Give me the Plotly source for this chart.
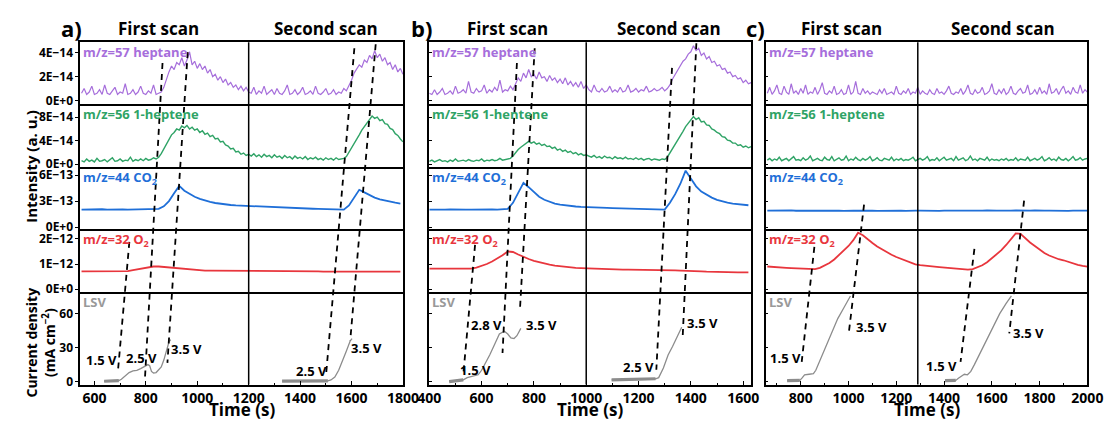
import numpy as np
import plotly.graph_objects as go

W, H = 1118, 423

# ======================= DATA =======================
# ---- panel a ----
a_fast_t = list(range(550, 1801, 10))
a_heptane = [  # x1e-14
    0.6, 1.0, 0.5, 0.7, 1.2, 0.5, 0.6, 0.9, 0.5, 1.3, 0.6, 0.5, 0.8, 1.1, 0.5, 0.7,
    0.6, 1.4, 0.5, 0.6, 0.9, 0.5, 0.7, 1.2, 0.6, 0.5, 0.8, 0.6, 1.3, 0.5, 0.6, 0.7,
    1.1, 1.8, 2.4, 2.9, 2.6, 3.2, 3.0, 3.6, 2.9, 3.4, 4.1, 3.0, 3.3, 2.7,
    3.1, 2.6, 2.9, 2.3, 2.6, 2.0, 2.2, 1.7, 2.0, 1.5, 1.8, 1.3, 1.5, 1.1, 1.3, 0.9,
    1.2, 0.8, 1.1, 0.7,
    0.6, 1.1, 0.5, 0.8, 0.6, 1.2, 0.5, 0.7, 0.9, 0.5, 1.0, 0.6, 0.5, 0.8, 1.3, 0.5,
    0.6, 0.9, 0.5, 0.7, 1.1, 0.5, 0.6, 0.8, 0.5, 1.2, 0.6, 0.5, 0.7, 1.0, 0.5, 0.6,
    0.9, 0.5, 0.7, 0.6, 1.0, 0.8,
    1.2, 1.7, 2.3, 2.6, 3.0, 2.8, 3.4, 3.2, 3.8, 3.5, 4.2, 3.6,
    3.9, 3.3, 3.6, 3.0, 3.2, 2.6, 3.0, 2.4, 2.7, 2.2]
a_heptene = [  # x1e-14
    0.6, 0.4, 0.9, 0.5, 0.7, 0.4, 1.0, 0.5, 0.6, 0.8, 0.4, 0.7, 1.1, 0.5, 0.6, 0.9,
    0.5, 0.7, 0.6, 1.2, 0.5, 0.8, 0.6, 0.9, 0.6, 1.0, 0.7, 0.8, 1.1, 0.9,
    1.2, 1.8, 2.6, 3.4, 4.2, 5.0, 5.4, 6.0, 5.8, 6.5, 6.2,
    6.6, 6.0, 6.3, 5.8, 6.0, 5.4, 5.7, 5.1, 5.3, 4.7, 4.9, 4.3, 4.4, 3.8, 3.9, 3.3,
    3.1, 2.6, 2.7, 2.1, 2.2, 1.7, 1.9, 1.5, 1.7,
    1.4, 1.8, 1.3, 1.6, 1.2, 1.7, 1.3, 1.5, 1.1, 1.6, 1.2, 1.4, 1.0, 1.5, 1.1, 1.3,
    0.9, 1.4, 1.0, 1.2, 0.9, 1.3, 0.8, 1.1, 0.9, 1.2, 0.8, 1.0, 0.7, 1.1, 0.8, 1.0,
    0.7, 1.1, 0.8, 0.9, 1.0,
    1.3, 2.0, 2.8, 3.5, 4.3, 5.0, 5.8, 6.4, 7.0, 7.5, 8.2, 7.8,
    8.0, 7.4, 7.6, 6.9, 6.8, 6.1, 5.9, 5.2, 4.9, 4.3, 3.8]
a_slow_t = list(range(550, 1791, 20))
a_co2 = [  # x1e-13
    2.02, 2.05, 2.0, 2.03, 2.06, 2.01, 2.04, 2.0, 2.05, 2.02, 2.03, 2.06, 2.01, 2.04, 2.05, 2.1,
    2.4, 3.0, 3.9, 4.75, 4.2, 3.8, 3.5, 3.25, 3.05, 2.9, 2.78, 2.68, 2.6, 2.55, 2.5, 2.47, 2.45,
    2.43, 2.4, 2.38, 2.36, 2.33, 2.3, 2.28, 2.25, 2.22, 2.2, 2.17, 2.15, 2.12, 2.1, 2.08,
    2.06, 2.05, 2.03, 2.02,
    2.5, 3.4, 4.3, 4.0, 3.65, 3.4, 3.2, 3.05, 2.92, 2.82, 2.72]
a_o2 = [  # x1e-12
    0.71, 0.71, 0.72, 0.71, 0.71, 0.72, 0.71, 0.71, 0.72, 0.72,
    0.76, 0.8, 0.85, 0.88, 0.9, 0.9, 0.88, 0.86, 0.84, 0.82, 0.8, 0.78, 0.76, 0.75, 0.74,
    0.74, 0.74, 0.73, 0.73, 0.73, 0.73, 0.72, 0.72, 0.72, 0.72, 0.72, 0.72, 0.71, 0.71,
    0.71, 0.71, 0.71, 0.71, 0.71, 0.71, 0.71, 0.71, 0.70, 0.70, 0.70, 0.70, 0.70, 0.70,
    0.71, 0.71, 0.70, 0.70, 0.70, 0.70, 0.70, 0.70, 0.70, 0.70]
a_lsv_t = [638, 660, 680, 695, 705, 720, 735, 750, 765, 780, 795, 808, 815, 822, 830, 840,
           850, 860, 870, 880, 890, 897, None,
           1330, 1400, 1460, 1508, 1520, 1535, 1550, 1565, 1580, 1595, 1602]
a_lsv_j = [0.3, 0.4, 0.5, 0.8, 2, 5, 8, 9.5, 10, 11.5, 13.5, 15, 14, 9, 7.5, 8,
           10.5, 13, 19, 27, 35, 37, None,
           0.5, 0.5, 0.5, 0.6, 1.5, 4, 10, 18, 27, 36, 38]
a_hold_t = [638, 695, None, 1330, 1508]
a_hold_j = [0.3, 0.8, None, 0.5, 0.6]

# ---- panel b ----
b_fast_t = list(range(400, 1631, 10))
b_heptane = [  # x1e-14
    0.6, 0.5, 0.9, 0.5, 0.7, 1.0, 0.5, 0.6, 0.8, 0.5, 1.2, 0.6, 0.7, 0.9, 0.6, 1.6,
    0.7, 0.6, 1.0, 0.7, 0.8, 1.3, 0.6, 0.9, 0.7, 1.1, 0.8, 1.7, 0.7, 0.9, 0.8, 1.2, 0.9,
    1.4, 1.9, 1.6, 2.3, 1.9, 2.6,
    2.0, 2.2, 1.8, 2.4, 1.9, 2.0, 1.6, 2.1, 1.7, 1.9, 1.5, 1.8, 1.4, 1.9, 1.3, 1.6,
    1.2, 1.5, 1.1, 1.6, 1.0, 1.3,
    0.9, 0.7, 1.3, 0.8, 0.7, 1.0, 0.7, 0.8, 1.2, 0.7, 0.9, 0.7, 1.1, 0.7, 0.8, 1.3,
    0.7, 0.8, 1.0, 0.7, 0.9, 0.8, 1.2, 0.7, 0.8, 1.0, 0.8, 0.9, 1.1, 0.8, 1.0,
    1.3, 1.8, 2.2, 2.6, 2.9, 3.3, 3.5, 3.9, 4.1, 4.6, 4.2,
    4.4, 3.8, 4.0, 3.5, 3.7, 3.2, 3.3, 2.9, 3.0, 2.6, 2.7, 2.3, 2.4, 2.0, 2.1, 1.8,
    1.9, 1.5, 1.7, 1.4, 1.5]
b_heptene = [  # x1e-14
    0.5, 0.7, 0.4, 0.6, 0.8, 0.5, 0.6, 0.4, 0.7, 0.5, 0.9, 0.5, 0.6, 0.7, 0.5, 0.8,
    0.6, 0.5, 0.7, 0.6, 0.9, 0.5, 0.7, 0.6, 0.8, 0.6, 0.7, 1.0, 0.7, 0.8, 0.9, 1.0,
    1.4, 2.0, 2.5, 2.9, 3.2, 3.6, 3.9,
    3.6, 3.8, 3.4, 3.6, 3.2, 3.4, 3.0, 3.1, 2.7, 2.9, 2.4, 2.6, 2.2, 2.4, 2.0, 2.2,
    1.8, 2.0, 1.6, 1.8, 1.5, 1.6,
    1.4, 1.2, 1.5, 1.1, 1.3, 1.0, 1.4, 1.1, 1.2, 0.9, 1.3, 1.0, 1.1, 0.9, 1.2, 0.9,
    1.0, 0.8, 1.1, 0.8, 1.0, 0.7, 0.9, 1.0, 0.7, 0.9, 0.8, 0.7, 0.9, 0.8,
    1.2, 1.9, 2.7, 3.4, 4.2, 4.9, 5.6, 6.4, 7.0, 7.6, 8.1,
    7.6, 7.9, 7.2, 7.3, 6.7, 6.6, 6.0, 5.8, 5.4, 5.2, 4.7, 4.6, 4.1, 4.0, 3.6, 3.6,
    3.2, 3.3, 2.9, 3.1, 2.8, 3.0]
b_slow_t = list(range(400, 1621, 20))
b_co2 = [  # x1e-13
    2.02, 2.0, 2.04, 2.01, 2.03, 2.0, 2.05, 2.02, 2.01, 2.04, 2.0, 2.03, 2.05, 2.02, 2.04, 2.1,
    2.8, 3.9, 5.1, 4.6, 4.0, 3.5, 3.15, 2.9, 2.72, 2.6, 2.5, 2.43, 2.38, 2.34, 2.3,
    2.28, 2.26, 2.24, 2.22, 2.2, 2.18, 2.16, 2.14, 2.12, 2.1, 2.08, 2.06, 2.04, 2.03, 2.02,
    2.8, 3.8, 5.0, 6.5, 5.6, 4.7, 4.1, 3.7, 3.4, 3.15, 2.95, 2.82, 2.72, 2.64, 2.57, 2.52]
b_o2 = [  # x1e-12
    0.82, 0.82, 0.81, 0.82, 0.82, 0.81, 0.81, 0.82, 0.82,
    0.86, 0.92, 1.0, 1.1, 1.22, 1.35, 1.5, 1.48, 1.38, 1.28, 1.2, 1.13, 1.07, 1.02, 0.98,
    0.94, 0.91, 0.89, 0.87, 0.85, 0.84, 0.83,
    0.82, 0.81, 0.8, 0.8, 0.79, 0.79, 0.78, 0.78, 0.78, 0.77, 0.77, 0.77, 0.76, 0.76,
    0.76, 0.75, 0.75, 0.74, 0.74, 0.73, 0.72, 0.71, 0.7, 0.69, 0.68, 0.68, 0.67, 0.67,
    0.67, 0.67, 0.67]
b_lsv_t = [476, 500, 530, 545, 564, 587, 600, 615, 631, 650, 668, 687, 700, 712, 724, 735,
           745, 750, None,
           1097, 1150, 1200, 1240, 1265, 1277, 1295, 1313, 1330, 1350, 1365]
b_lsv_j = [0, 0.5, 1.5, 3.5, 4.5, 6, 10, 16, 23.5, 33, 42, 44.5, 42, 38.5, 38, 40.5,
           45, 47, None,
           1.5, 1.5, 1.8, 2, 2.5, 3.5, 12, 23.5, 31, 40, 48]
b_hold_t = [476, 530, None, 1097, 1265]
b_hold_j = [0, 1.5, None, 1.5, 2.5]

# ---- panel c ----
c_fast_t = list(range(660, 2001, 10))
c_heptane = [  # x1e-14
    0.6, 1.1, 0.5, 0.8, 1.3, 0.6, 0.5, 1.2, 0.7, 0.5, 1.4, 0.6, 0.8, 0.5, 1.0, 0.6, 1.3, 0.5, 0.7, 0.6,
    1.1, 0.5, 0.9, 1.5, 0.6, 0.5, 0.8, 0.6, 1.2, 0.5, 0.6, 0.9, 0.5, 0.6, 1.3, 0.5, 0.7, 1.6, 0.6, 0.5,
    1.0, 0.6, 0.8, 0.5, 0.7, 0.6, 0.5, 0.9, 0.6, 1.0, 0.5, 0.6, 0.7, 0.5, 1.2, 0.6, 0.5, 0.8, 0.6, 1.0,
    0.5, 0.7, 0.6, 1.1, 0.5, 0.8, 0.6, 0.5, 0.9, 0.6, 0.5, 1.0, 0.6, 0.7, 0.5, 0.8, 1.2, 0.6, 0.5, 0.7,
    0.6, 1.0, 0.5, 0.8, 1.3, 0.6, 0.5, 0.9, 0.6, 0.7, 1.1, 0.5, 0.6, 0.8, 1.4, 0.6, 0.5, 0.9, 0.6, 1.0,
    0.5, 0.7, 1.2, 0.6, 0.5, 0.8, 1.0, 0.6, 0.7, 1.3, 0.5, 0.6, 0.9, 0.5, 1.1, 0.6, 0.8, 0.5, 1.4, 0.6,
    0.7, 1.0, 0.5, 0.9, 1.2, 0.6, 0.8, 0.5, 1.1, 0.7, 0.6, 1.3, 0.6, 0.9, 0.7]
c_heptene = [  # x1e-14
    0.7, 1.0, 0.6, 0.9, 0.7, 1.2, 0.6, 0.8, 1.0, 0.6, 0.9, 1.3, 0.7, 0.8, 0.6, 1.1, 0.7, 0.9, 1.4, 0.6,
    0.8, 1.0, 0.7, 0.6, 1.2, 0.8, 0.7, 1.3, 0.6, 0.9, 1.1, 0.7, 0.8, 1.4, 0.6, 0.9, 0.7, 1.2, 0.8, 0.6,
    1.0, 0.7, 0.9, 1.3, 0.6, 0.8, 1.1, 0.7, 0.6, 1.0, 0.8, 0.7, 1.2, 0.6, 0.9, 0.7, 1.0, 0.6, 0.8, 0.7,
    0.9, 1.2, 0.6, 0.8, 1.0, 0.7, 0.9, 1.3, 0.6, 0.8, 0.7, 1.1, 0.6, 0.9, 1.2, 0.7, 0.8, 1.0, 0.6, 1.3,
    0.7, 0.9, 1.1, 0.6, 0.8, 1.4, 0.7, 0.9, 0.6, 1.0, 0.8, 0.7, 1.2, 0.6, 0.9, 0.7, 0.8, 0.6, 0.9, 0.7,
    1.0, 0.6, 0.8, 0.7, 1.1, 0.6, 0.9, 0.8, 0.7, 1.2, 0.6, 0.8, 1.0, 0.7, 0.9, 1.3, 0.6, 0.8, 1.1, 0.7,
    0.9, 0.6, 1.2, 0.8, 0.7, 1.0, 0.6, 0.9, 1.3, 0.7, 0.8, 1.1, 0.7, 0.9, 1.0]
c_slow_t = list(range(660, 2001, 20))
c_co2 = [  # x1e-13
    1.9, 1.92, 1.88, 1.91, 1.9, 1.93, 1.89, 1.9, 1.92, 1.88, 1.91, 1.9, 1.89, 1.93, 1.9, 1.91, 1.88, 1.92, 1.9, 1.89,
    1.91, 1.93, 1.9, 1.88, 1.9, 1.92, 1.89, 1.91, 1.9, 1.88, 1.92, 1.9, 1.91, 1.89, 1.93, 1.9, 1.88, 1.91, 1.9, 1.92,
    1.89, 1.9, 1.91, 1.88, 1.92, 1.9, 1.93, 1.89, 1.9, 1.91, 1.88, 1.9, 1.92, 1.89, 1.91, 1.9, 1.93, 1.88, 1.9, 1.91,
    1.89, 1.92, 1.9, 1.88, 1.91, 1.9, 1.92, 1.9]
c_o2 = [  # x1e-12
    0.9, 0.88, 0.87, 0.86, 0.85, 0.84, 0.83, 0.82, 0.81, 0.8, 0.8,
    0.85, 0.93, 1.04, 1.18, 1.35, 1.52, 1.72, 1.95, 2.25, 2.15, 1.98, 1.84, 1.7, 1.58, 1.47,
    1.37, 1.28, 1.2, 1.12, 1.05, 0.99,
    0.96, 0.93, 0.91, 0.9, 0.88, 0.86, 0.84, 0.82, 0.8, 0.79, 0.78, 0.8,
    0.86, 0.95, 1.07, 1.22, 1.38, 1.55, 1.76, 1.98, 2.22, 2.2, 2.02, 1.86, 1.72, 1.58,
    1.44, 1.34, 1.25, 1.19, 1.15, 1.08, 1.02, 0.97, 0.93, 0.9]
c_lsv_t = [743, 770, 796, 805, 816, 835, 853, 863, 873, 894, 914, 935, 955, 980, 1008, None,
           1404, 1430, 1449, 1460, 1469, 1485, 1498, 1512, 1527, 1550, 1580, 1605, 1633, 1660, 1682]
c_lsv_j = [0.9, 0.9, 1, 3, 6, 6.5, 7, 10, 15, 25, 35, 45, 55.6, 65, 75.6, None,
           0.9, 0.9, 1, 3, 4.3, 6.5, 6, 9, 15, 25, 38, 48, 60, 69, 75.6]
c_hold_t = [743, 796, None, 1404, 1449]
c_hold_j = [0.9, 1, None, 0.9, 1]

# tick labels for the intensity rows (panel a only)
y_tickvals = [[0, 2e-14, 4e-14], [0, 4e-14, 8e-14], [0, 3e-13, 6e-13], [0, 1e-12, 2e-12], [0, 30, 60]]
y_ticktext = [["0E+0", "2E\u221214", "4E\u221214"], ["0E+0", "4E\u221214", "8E\u221214"],
              ["0E+0", "3E\u221213", "6E\u221213"], ["0E+0", "1E\u221212", "2E\u221212"],
              ["0", "30", "60"]]

# ======================= LAYOUT / STYLE =======================
FONT = "Open Sans"
row_px = [42, 105, 169, 232, 296, 390]           # row boundaries (px from top)
y_ranges = [[-0.33e-14, 4.9e-14], [-0.5e-14, 10.2e-14], [-0.23e-13, 6.9e-13],
            [-0.12e-12, 2.39e-12], [-2.6, 79]]
row_colors = ["#A66EDB", "#2FA366", "#1F6FD8", "#E8363D", "#999999"]
line_colors = ["#A66EDB", "#2FA366", "#1F6FD8", "#E8363D", "#8C8C8C"]
line_widths = [1.2, 1.4, 1.8, 1.8, 1.3]
scale = [1e-14, 1e-14, 1e-13, 1e-12, 1]

panels = [
    dict(letter="a)", xpx=(70, 401), xrange=[545, 1800], divider=1200, title_x=(850, 1500),
         fast_t=a_fast_t, slow_t=a_slow_t,
         series=[a_heptane, a_heptene, a_co2, a_o2], lsv=(a_lsv_t, a_lsv_j), hold=(a_hold_t, a_hold_j),
         labels=["m/z=57 heptane", "m/z=56 1-heptene", "m/z=44 CO<sub>2</sub>", "m/z=32 O<sub>2</sub>", "LSV"],
         volts=[("1.5 V", 626, 19), ("2.5 V", 785, 21), ("3.5 V", 960, 29), ("2.5 V", 1444, 9), ("3.5 V", 1660, 30)],
         guides=[(736, 245, 691, 378), (865, 63, 797, 382), (963, 52, 884, 368),
                 (1611, 48, 1501, 380), (1694, 44, 1595, 345)],
         ylabels=True),
    dict(letter="b)", xpx=(428, 758), xrange=[400, 1630], divider=1000, title_x=(700, 1315),
         fast_t=b_fast_t, slow_t=b_slow_t,
         series=[b_heptane, b_heptene, b_co2, b_o2], lsv=(b_lsv_t, b_lsv_j), hold=(b_hold_t, b_hold_j),
         labels=["m/z=57 heptane", "m/z=56 1-hentene", "m/z=44 CO<sub>2</sub>", "m/z=32 O<sub>2</sub>", "LSV"],
         volts=[("1.5 V", 575, 10.4), ("2.8 V", 620, 50), ("3.5 V", 829, 50), ("2.5 V", 1198, 13), ("3.5 V", 1444, 52)],
         guides=[(575, 248, 530, 380), (735, 63, 680, 358), (803, 48, 747, 312),
                 (1328, 68, 1268, 375), (1421, 43, 1369, 340)],
         ylabels=False),
    dict(letter="c)", xpx=(773, 1103), xrange=[653, 2000], divider=1290, title_x=(971, 1645),
         fast_t=c_fast_t, slow_t=c_slow_t,
         series=[c_heptane, c_heptene, c_co2, c_o2], lsv=(c_lsv_t, c_lsv_j), hold=(c_hold_t, c_hold_j),
         labels=["m/z=57 heptane", "m/z=56 1-heptene", "m/z=44 CO<sub>2</sub>", "m/z=32 O<sub>2</sub>", "LSV"],
         volts=[("1.5 V", 735, 21), ("3.5 V", 1098, 48), ("1.5 V", 1388, 14), ("3.5 V", 1755, 43)],
         guides=[(857, 250, 804, 367), (1065, 207, 1000, 340), (1527, 252, 1469, 367), (1735, 203, 1673, 338)],
         ylabels=False),
]


def py(px):
    return 1 - px / H


fig = go.Figure()
annotations = []
shapes = []
layout_axes = {}

for p, P in enumerate(panels):
    x0, x1 = P["xpx"]
    for r in range(5):
        n = p * 5 + r + 1
        sfx = "" if n == 1 else str(n)
        xid, yid = "x" + sfx, "y" + sfx
        bottom = r == 4
        layout_axes["xaxis" + sfx] = dict(
            domain=[x0 / W, x1 / W], anchor=yid, range=P["xrange"],
            showline=True, mirror=(r == 0), linecolor="black", linewidth=1.5,
            showgrid=False, zeroline=False,
            ticks="inside" if bottom else "", ticklen=4, tickwidth=1.3, tickcolor="black",
            tickmode="linear", tick0=0, dtick=200,
            minor=dict(ticks="inside" if bottom else "", ticklen=2, tickwidth=1, dtick=100, tickcolor="black"),
            showticklabels=bottom,
            tickfont=dict(family=FONT, size=14, color="black", weight="bold"),
        )
        layout_axes["yaxis" + sfx] = dict(
            domain=[py(row_px[r + 1]), py(row_px[r])], anchor=xid, range=y_ranges[r],
            showline=True, mirror=True, linecolor="black", linewidth=1.5,
            showgrid=False, zeroline=False,
            ticks="outside" if P["ylabels"] else "inside", ticklen=3, tickwidth=1.3, tickcolor="black",
            tickmode="array", tickvals=y_tickvals[r], ticktext=y_ticktext[r],
            showticklabels=P["ylabels"],
            tickfont=dict(family=FONT, size=12, color="black", weight="bold"),
        )
        if r < 4:
            t = P["fast_t"] if r < 2 else P["slow_t"]
            fig.add_trace(go.Scatter(x=t, y=np.array(P["series"][r]) * scale[r], mode="lines",
                                     line=dict(color=line_colors[r], width=line_widths[r]),
                                     xaxis=xid, yaxis=yid, showlegend=False))
        else:
            lt, lj = P["lsv"]
            ht, hj = P["hold"]
            fig.add_trace(go.Scatter(x=lt, y=lj, mode="lines", connectgaps=False,
                                     line=dict(color=line_colors[r], width=line_widths[r]),
                                     xaxis=xid, yaxis=yid, showlegend=False))
            fig.add_trace(go.Scatter(x=ht, y=hj, mode="lines", connectgaps=False,
                                     line=dict(color=line_colors[r], width=3.2),
                                     xaxis=xid, yaxis=yid, showlegend=False))
            for txt, vx, vy in P["volts"]:
                annotations.append(dict(text=f"<b>{txt}</b>", x=vx, y=vy, xref=xid, yref=yid,
                                        xanchor="center", yanchor="middle",
                                        showarrow=False, font=dict(family=FONT, size=13, color="black")))
        annotations.append(dict(text=f"<b>{P['labels'][r]}</b>", x=0.0, y=1.0,
                                xref=xid + " domain", yref=yid + " domain", xanchor="left", yanchor="top",
                                showarrow=False, xshift=1, yshift=1,
                                font=dict(family=FONT, size=13, color=row_colors[r])))

    xref = "x" + ("" if p == 0 else str(p * 5 + 1))
    # vertical divider between scans
    shapes.append(dict(type="line", xref=xref, yref="paper", x0=P["divider"], x1=P["divider"],
                       y0=py(row_px[-1]), y1=py(row_px[0]), line=dict(color="black", width=1.5)))
    # dashed guide lines
    for xt, yt, xb, yb in P["guides"]:
        shapes.append(dict(type="line", xref=xref, yref="paper", x0=xt, y0=py(yt), x1=xb, y1=py(yb),
                           line=dict(color="black", width=1.8, dash="6px,5px")))
    # scan titles
    for txt, tx in zip(["First scan", "Second scan"], P["title_x"]):
        annotations.append(dict(text=f"<b>{txt}</b>", x=tx, y=py(28), xref=xref, yref="paper",
                                xanchor="center", yanchor="middle",
                                showarrow=False, font=dict(family=FONT, size=17, color="black")))
    # panel letter
    lx = {0: 61, 1: 420, 2: 763}[p]
    annotations.append(dict(text=f"<b>{P['letter']}</b>", x=lx / W, y=py(27), xref="paper", yref="paper",
                            xanchor="center", yanchor="middle",
                            showarrow=False, font=dict(family=FONT, size=22, color="black")))
    # x axis title
    annotations.append(dict(text="<b>Time (s)</b>", x=(x0 + x1) / 2 / W, y=py(415), xref="paper", yref="paper",
                            xanchor="center", yanchor="middle",
                            showarrow=False, font=dict(family=FONT, size=17, color="black")))

# y axis titles
annotations.append(dict(text="<b>Intensity (a. u.)</b>", x=20 / W, y=py(168), xref="paper", yref="paper",
                        xanchor="center", yanchor="middle",
                        textangle=-90, showarrow=False, font=dict(family=FONT, size=15, color="black")))
annotations.append(dict(text="<b>Current density<br>(mA cm<sup>\u22122</sup>)</b>", x=29 / W, y=py(347),
                        xref="paper", yref="paper", textangle=-90, showarrow=False,
                        xanchor="center", yanchor="middle",
                        font=dict(family=FONT, size=14, color="black")))

fig.update_layout(width=W, height=H, autosize=False, margin=dict(l=0, r=0, t=0, b=0),
                  paper_bgcolor="white", plot_bgcolor="white", showlegend=False,
                  annotations=annotations, shapes=shapes, **layout_axes)

fig.write_html("out.html")
